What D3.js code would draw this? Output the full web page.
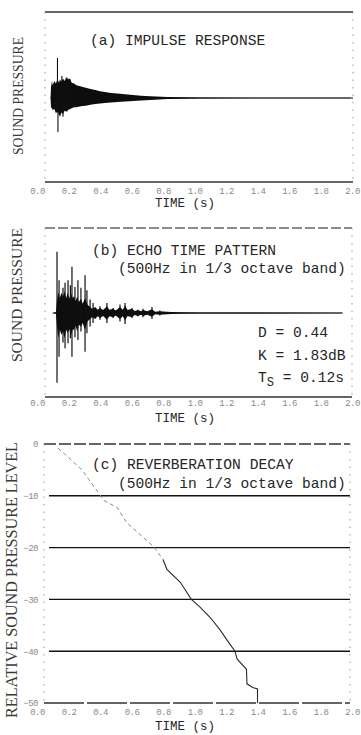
<!DOCTYPE html>
<html>
<head>
<meta charset="utf-8">
<script src="https://cdn.jsdelivr.net/npm/d3@7/dist/d3.min.js"></script>
<style>
  body { margin: 0; background: #fff; }
  svg { display: block; }
  .mono { font-family: "Liberation Mono", "DejaVu Sans Mono", monospace; fill: #262626; }
  .serif { font-family: "Liberation Serif", "DejaVu Serif", serif; fill: #3a3a3a; }
  .tick text { font-family: "Liberation Mono", monospace; fill: #8a8a8a; }
</style>
</head>
<body>
<script>
// ---- shared time axis ----
const timeTicks = [0.0, 0.2, 0.4, 0.6, 0.8, 1.0, 1.2, 1.4, 1.6, 1.8, 2.0];

// ---- (a) impulse response: upper / lower envelope of the waveform (normalised pressure) ----
const impulseT  = [0.086, 0.089, 0.095, 0.10, 0.11, 0.12, 0.13, 0.14, 0.146, 0.155, 0.165, 0.175, 0.185, 0.197, 0.21, 0.22, 0.235, 0.25, 0.27, 0.29, 0.31, 0.34, 0.37, 0.40, 0.43, 0.47, 0.51, 0.56, 0.61, 0.66, 0.72, 0.83, 1.03, 1.42, 1.99];
const impulseUp = [0.0, 0.13, 0.20, 0.15, 0.20, 0.17, 0.22, 0.18, 0.22, 0.19, 0.23, 0.20, 0.24, 0.22, 0.23, 0.18, 0.17, 0.15, 0.14, 0.13, 0.12, 0.105, 0.094, 0.08, 0.07, 0.06, 0.053, 0.044, 0.035, 0.027, 0.02, 0.013, 0.006, 0.004, 0.003];
const impulseLo = [0.0, -0.11, -0.12, -0.14, -0.13, -0.18, -0.16, -0.20, -0.22, -0.17, -0.19, -0.15, -0.16, -0.14, -0.13, -0.12, -0.11, -0.11, -0.10, -0.095, -0.09, -0.08, -0.07, -0.065, -0.06, -0.052, -0.047, -0.04, -0.035, -0.03, -0.024, -0.012, -0.006, -0.004, -0.003];
// isolated peaks rising out of the envelope
const impulseSpikeT  = [0.13, 0.133, 0.158, 0.165, 0.19];
const impulseSpikeUp = [0.47, 0.10, 0.26, 0.05, 0.24];
const impulseSpikeLo = [-0.05, -0.40, -0.10, -0.22, -0.16];

// ---- (b) echo time pattern, 500 Hz 1/3 octave band ----
const echoT  = [0.10, 0.12, 0.127, 0.135, 0.145, 0.155, 0.165, 0.175, 0.185, 0.195, 0.205, 0.215, 0.225, 0.235, 0.245, 0.255, 0.265, 0.28, 0.29, 0.305, 0.32, 0.337, 0.35, 0.37, 0.385, 0.40, 0.42, 0.444, 0.46, 0.483, 0.50, 0.527, 0.545, 0.559, 0.575, 0.603, 0.62, 0.641, 0.66, 0.673, 0.70, 0.73, 0.75, 0.78, 0.85, 0.908, 1.035, 1.416, 1.94];
const echoUp = [0.0, 0.01, 0.15, 0.25, 0.18, 0.24, 0.20, 0.26, 0.18, 0.24, 0.17, 0.25, 0.18, 0.20, 0.14, 0.20, 0.13, 0.17, 0.11, 0.18, 0.10, 0.07, 0.05, 0.07, 0.04, 0.06, 0.035, 0.08, 0.04, 0.05, 0.03, 0.07, 0.04, 0.09, 0.035, 0.05, 0.025, 0.035, 0.02, 0.035, 0.02, 0.045, 0.015, 0.02, 0.012, 0.01, 0.007, 0.005, 0.003];
const echoLo = [0.0, -0.01, -0.15, -0.30, -0.20, -0.26, -0.22, -0.30, -0.20, -0.24, -0.19, -0.28, -0.20, -0.20, -0.15, -0.22, -0.14, -0.16, -0.12, -0.20, -0.10, -0.07, -0.05, -0.07, -0.04, -0.06, -0.035, -0.08, -0.04, -0.05, -0.03, -0.07, -0.04, -0.09, -0.035, -0.05, -0.025, -0.035, -0.02, -0.035, -0.02, -0.045, -0.015, -0.02, -0.012, -0.01, -0.007, -0.005, -0.003];
const echoSpikeT  = [0.127, 0.14, 0.165, 0.178, 0.197, 0.212, 0.222, 0.241, 0.26, 0.279, 0.305, 0.317, 0.337, 0.356, 0.40, 0.444, 0.483, 0.527, 0.559, 0.603, 0.641, 0.673, 0.73, 0.78];
const echoSpikeUp = [0.73, 0.39, 0.30, 0.36, 0.39, 0.33, 0.55, 0.31, 0.39, 0.30, 0.45, 0.27, 0.16, 0.12, 0.08, 0.12, 0.06, 0.10, 0.12, 0.06, 0.04, 0.05, 0.07, 0.03];
const echoSpikeLo = [-0.83, -0.52, -0.35, -0.42, -0.36, -0.30, -0.52, -0.29, -0.32, -0.22, -0.46, -0.24, -0.16, -0.12, -0.08, -0.12, -0.06, -0.10, -0.13, -0.06, -0.04, -0.05, -0.07, -0.03];
const echoParams = [
  { name: "D", sub: "", value: "0.44" },
  { name: "K", sub: "", value: "1.83dB" },
  { name: "T", sub: "S", value: "0.12s" }
];

// ---- (c) reverberation decay, 500 Hz 1/3 octave band ----
const levelTicks = [0, -10, -20, -30, -40, -50];
const decayT = [0.133, 0.20, 0.286, 0.33, 0.40, 0.42, 0.51, 0.57, 0.67, 0.74, 0.80, 0.825, 0.91, 0.98, 1.035, 1.10, 1.16, 1.21, 1.257, 1.27, 1.33, 1.333, 1.37, 1.40, 1.40];
const decayL = [-0.8, -2.6, -5.0, -6.9, -9.8, -10.8, -12.3, -15.2, -17.9, -19.8, -22.3, -24.2, -26.7, -30.0, -31.5, -33.5, -35.8, -38.0, -40.0, -41.5, -43.5, -46.3, -47.0, -47.3, -50.0];

// ---------------------------------------------------------------
const W = 361, H = 735;
const svg = d3.select("body").append("svg").attr("width", W).attr("height", H);
const x = d3.scaleLinear().domain([0, 2]).range([37, 352]);
const fmt = d3.format(".1f");

function frameBox(left, right, top, bottom, topDash, bottomDash, topColor) {
  const g = svg.append("g").attr("fill", "none");
  g.append("line").attr("x1", left).attr("x2", right).attr("y1", top).attr("y2", top)
    .attr("stroke", topColor || "#333").attr("stroke-width", 1.3).attr("stroke-dasharray", topDash);
  g.append("line").attr("x1", left).attr("x2", right).attr("y1", bottom).attr("y2", bottom)
    .attr("stroke", "#333").attr("stroke-width", 1.3).attr("stroke-dasharray", bottomDash);
  [left, right].forEach(v => g.append("line").attr("x1", v).attr("x2", v).attr("y1", top).attr("y2", bottom)
    .attr("stroke", "#999").attr("stroke-width", 1).attr("stroke-dasharray", "1.5,6"));
}

function timeAxis(yPos, titleY) {
  const g = svg.append("g").attr("transform", `translate(0,${yPos})`)
    .call(d3.axisBottom(x).tickValues(timeTicks).tickFormat(fmt).tickSize(0).tickPadding(0));
  g.select(".domain").remove();
  g.selectAll("text").attr("font-size", 9).attr("letter-spacing", -0.6).attr("dy", "0.35em");
  svg.append("text").attr("class", "mono").attr("x", 185).attr("y", titleY)
    .attr("text-anchor", "middle").attr("font-size", 12.5).text("TIME (s)");
}

function yTitle(cx, cy, len, size, label) {
  svg.append("text").attr("class", "serif")
    .attr("transform", `translate(${cx},${cy}) rotate(-90)`)
    .attr("text-anchor", "middle").attr("dominant-baseline", "central")
    .attr("font-size", size).attr("textLength", len).attr("lengthAdjust", "spacingAndGlyphs")
    .text(label);
}

function titleText(tx, ty, label) {
  svg.append("text").attr("class", "mono").attr("x", tx).attr("y", ty)
    .attr("font-size", 14.6).text(label);
}

// ===== (a) =====
const yA = d3.scaleLinear().domain([-1, 1]).range([183, 13]);
frameBox(45, 353, 12, 182, null, null);
svg.append("line").attr("x1", x(0.086)).attr("x2", 353).attr("y1", yA(0)).attr("y2", yA(0))
  .attr("stroke", "#111").attr("stroke-width", 1.2);
svg.append("path")
  .datum(impulseT.map((t, i) => [t, impulseUp[i], impulseLo[i]]))
  .attr("fill", "#0d0d0d")
  .attr("d", d3.area().x(d => x(d[0])).y0(d => yA(d[2])).y1(d => yA(d[1])));
svg.append("g").selectAll("line").data(impulseSpikeT).join("line")
  .attr("x1", d => x(d)).attr("x2", d => x(d))
  .attr("y1", (d, i) => yA(impulseSpikeUp[i])).attr("y2", (d, i) => yA(impulseSpikeLo[i]))
  .attr("stroke", "#111").attr("stroke-width", 1.1);
titleText(90, 45, "(a) IMPULSE RESPONSE");
yTitle(18, 96, 118, 14.5, "SOUND PRESSURE");
timeAxis(191, 207);

// ===== (b) =====
const yB = d3.scaleLinear().domain([-1, 1]).range([397, 229]);
frameBox(45, 352, 228, 397, "10,3", null, "#666");
svg.append("line").attr("x1", x(0.10)).attr("x2", x(1.94)).attr("y1", yB(0)).attr("y2", yB(0))
  .attr("stroke", "#111").attr("stroke-width", 1.2);
svg.append("path")
  .datum(echoT.map((t, i) => [t, echoUp[i], echoLo[i]]))
  .attr("fill", "#0d0d0d")
  .attr("d", d3.area().x(d => x(d[0])).y0(d => yB(d[2])).y1(d => yB(d[1])));
svg.append("g").selectAll("line").data(echoSpikeT).join("line")
  .attr("x1", d => x(d)).attr("x2", d => x(d))
  .attr("y1", (d, i) => yB(echoSpikeUp[i])).attr("y2", (d, i) => yB(echoSpikeLo[i]))
  .attr("stroke", "#111").attr("stroke-width", 1.2);
titleText(92, 255, "(b) ECHO TIME PATTERN");
titleText(118, 273, "(500Hz in 1/3 octave band)");
const paramRows = [337, 360, 382];
echoParams.forEach((p, i) => {
  const t = svg.append("text").attr("class", "mono").attr("x", 258).attr("y", paramRows[i]).attr("font-size", 14.6);
  t.append("tspan").text(p.name);
  if (p.sub) t.append("tspan").attr("dy", 4).attr("font-size", 12).text(p.sub);
  t.append("tspan").attr("dy", p.sub ? -4 : 0).text(" = " + p.value);
});
yTitle(17, 295, 134, 14.5, "SOUND PRESSURE");
timeAxis(403, 422);

// ===== (c) =====
const yC = d3.scaleLinear().domain([-50, 0]).range([703, 444]);
frameBox(44, 350, yC(0), yC(-50), "12,3", "40,3");
svg.append("g").selectAll("line").data(levelTicks.filter(v => v < 0 && v > -50)).join("line")
  .attr("x1", 49).attr("x2", 350).attr("y1", d => yC(d)).attr("y2", d => yC(d))
  .attr("stroke", "#111").attr("stroke-width", 1.4);
const gy = svg.append("g").attr("transform", "translate(38,0)")
  .call(d3.axisLeft(yC).tickValues(levelTicks).tickSize(0).tickPadding(0).tickFormat(d3.format("d")));
gy.select(".domain").remove();
gy.selectAll("text").attr("font-size", 9).attr("letter-spacing", -0.5);

const decayPts = decayT.map((t, i) => [t, decayL[i]]);
const lineC = d3.line().x(d => x(d[0])).y(d => yC(d[1]));
const split = decayT.indexOf(0.80);
svg.append("path").datum(decayPts.slice(0, split + 1)).attr("fill", "none")
  .attr("stroke", "#8a8a8a").attr("stroke-width", 1).attr("stroke-dasharray", "4,3").attr("d", lineC);
svg.append("path").datum(decayPts.slice(split)).attr("fill", "none")
  .attr("stroke", "#2a2a2a").attr("stroke-width", 1.1).attr("d", lineC);
titleText(92, 469, "(c) REVERBERATION DECAY");
titleText(118, 488, "(500Hz in 1/3 octave band)");
yTitle(11, 580, 276, 16, "RELATIVE SOUND PRESSURE LEVEL");
timeAxis(712, 730);
</script>
</body>
</html>
